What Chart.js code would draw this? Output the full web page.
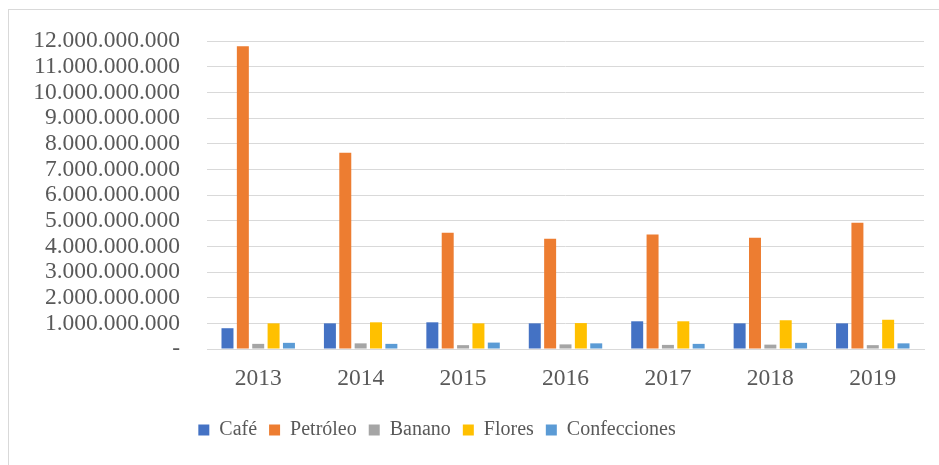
<!DOCTYPE html>
<html>
<head>
<meta charset="utf-8">
<script src="https://cdn.jsdelivr.net/npm/chart.js@4"></script>
<style>
  html, body { margin: 0; padding: 0; background: #fff; }
  #wrap { position: relative; width: 939px; height: 465px; overflow: hidden; }
  #frame { position: absolute; left: 8px; top: 9px; width: 960px; height: 480px; border: 1px solid #d9d9d9; box-sizing: border-box; }
  canvas { position: absolute; left: 0; top: 0; }
</style>
</head>
<body>
<div id="wrap">
  <div id="frame"></div>
  <canvas id="c" width="939" height="465"></canvas>
</div>
<script>
// valores en pesos (lectura aproximada del gráfico)
const years = ['2013', '2014', '2015', '2016', '2017', '2018', '2019'];
const cafe         = [0.81e9, 1.00e9, 1.04e9, 1.00e9, 1.08e9, 1.00e9, 1.00e9];
const petroleo     = [11.80e9, 7.65e9, 4.53e9, 4.30e9, 4.46e9, 4.34e9, 4.92e9];
const banano       = [0.20e9, 0.22e9, 0.15e9, 0.18e9, 0.16e9, 0.17e9, 0.15e9];
const flores       = [1.00e9, 1.04e9, 1.00e9, 1.01e9, 1.08e9, 1.12e9, 1.14e9];
const confecciones = [0.24e9, 0.20e9, 0.25e9, 0.22e9, 0.20e9, 0.24e9, 0.22e9];

const serif = "'Liberation Serif', 'Times New Roman', serif";
const ink = '#595959';
Chart.defaults.font.family = serif;
Chart.defaults.color = ink;

const ds = (label, data, color) => ({ label, data, backgroundColor: color, borderWidth: 0 });

const fmt = (v) => v === 0 ? '-' : Math.round(v).toString().replace(/\B(?=(\d{3})+(?!\d))/g, '.');

// la leyenda de Excel queda algo a la izquierda del centro
const shiftLegend = {
  id: 'shiftLegend',
  afterLayout(chart) {
    chart.legend.left -= 25;
    chart.legend.right -= 25;
  },
};

new Chart(document.getElementById('c'), {
  type: 'bar',
  data: {
    labels: years,
    datasets: [
      ds('Café', cafe, '#4472C4'),
      ds('Petróleo', petroleo, '#ED7D31'),
      ds('Banano', banano, '#A5A5A5'),
      ds('Flores', flores, '#FFC000'),
      ds('Confecciones', confecciones, '#5B9BD5'),
    ],
  },
  options: {
    responsive: false,
    animation: false,
    layout: { padding: { top: 39, right: 15, bottom: 15, left: 0 } },
    datasets: { bar: { categoryPercentage: 0.75, barPercentage: 0.78 } },
    scales: {
      x: {
        grid: { display: false },
        border: { color: '#d9d9d9', width: 1 },
        ticks: { color: ink, font: { family: serif, size: 23.5 }, padding: 8 },
        afterFit: (s) => { s.height = 59; },
      },
      y: {
        min: 0, max: 12e9,
        grid: { color: '#d9d9d9', drawTicks: false },
        border: { display: false },
        ticks: { stepSize: 1e9, autoSkip: false, color: ink, font: { family: serif, size: 23.5 }, padding: 27, callback: fmt },
        afterFit: (s) => { s.width = 207; },
      },
    },
    plugins: {
      legend: {
        position: 'bottom',
        labels: { color: ink, font: { family: serif, size: 20 }, boxWidth: 11, boxHeight: 11, padding: 12 },
      },
      tooltip: { enabled: false },
    },
  },
  plugins: [shiftLegend],
});
</script>
</body>
</html>
